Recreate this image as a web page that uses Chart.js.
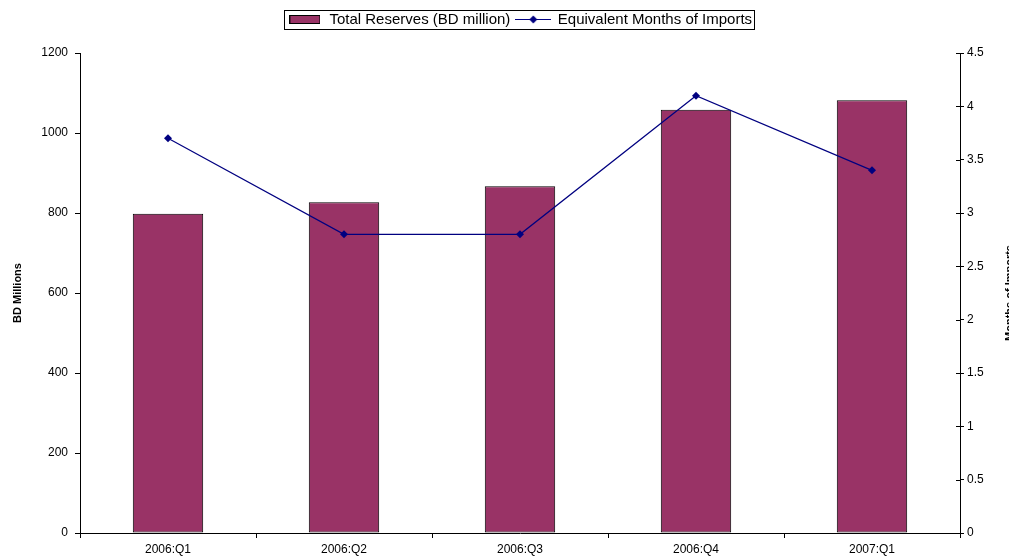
<!DOCTYPE html>
<html>
<head>
<meta charset="utf-8">
<script src="https://cdn.jsdelivr.net/npm/chart.js@4/dist/chart.umd.min.js"></script>
<style>
  html, body { margin: 0; padding: 0; background: #fff; }
  #wrap { width: 1009px; height: 556px; }
</style>
</head>
<body>
<div id="wrap"><canvas id="myChart"></canvas></div>
<script>
var quarters = ['2006:Q1', '2006:Q2', '2006:Q3', '2006:Q4', '2007:Q1'];
var reserves = [798, 827, 867, 1058, 1082];
var monthsImports = [3.7, 2.8, 2.8, 4.1, 3.4];
var leftTicks = [0, 200, 400, 600, 800, 1000, 1200];
var rightTicks = [0, 0.5, 1, 1.5, 2, 2.5, 3, 3.5, 4, 4.5];

var plum = '#993366';
var navy = '#000080';
var font = 'Arial, "Liberation Sans", sans-serif';

// little legend symbols
function barSymbol() {
    var c = document.createElement('canvas');
    c.width = 31; c.height = 9;
    var g = c.getContext('2d');
    g.fillStyle = plum;
    g.fillRect(0.5, 0.5, 30, 8);
    g.strokeStyle = '#000';
    g.lineWidth = 1;
    g.strokeRect(0.5, 0.5, 30, 8);
    return c;
}
function lineSymbol() {
    var c = document.createElement('canvas');
    c.width = 36; c.height = 9;
    var g = c.getContext('2d');
    g.strokeStyle = navy;
    g.lineWidth = 1.2;
    g.beginPath(); g.moveTo(0, 4.5); g.lineTo(36, 4.5); g.stroke();
    g.fillStyle = navy;
    g.beginPath();
    g.moveTo(18, 0.5); g.lineTo(22, 4.5); g.lineTo(18, 8.5); g.lineTo(14, 4.5);
    g.closePath(); g.fill();
    return c;
}

var extras = {
    id: 'extras',
    beforeUpdate: function(chart) {
        // leave a gap under the legend, like the original
        var lg = chart.legend;
        if (lg && !lg._patched) {
            var fit = lg.fit;
            lg.fit = function() { fit.call(this); this.height += 16; };
            lg._patched = true;
        }
    },
    afterDraw: function(chart) {
        var ctx = chart.ctx;
        var lg = chart.legend;
        // legend frame
        if (lg && lg.legendHitBoxes && lg.legendHitBoxes.length) {
            var l = 9999, r = 0, t = 9999, b = 0;
            lg.legendHitBoxes.forEach(function(h) {
                l = Math.min(l, h.left); r = Math.max(r, h.left + h.width);
                t = Math.min(t, h.top); b = Math.max(b, h.top + h.height);
            });
            ctx.save();
            ctx.strokeStyle = '#000';
            ctx.lineWidth = 1;
            ctx.strokeRect(Math.round(l - 4) + 0.5, Math.round(t - 2) + 0.5, Math.round(r - l + 6), Math.round(b - t + 4));
            ctx.restore();
        }
        // inner half of the right axis ticks
        var y2 = chart.scales.y2;
        ctx.save();
        ctx.strokeStyle = '#000';
        ctx.lineWidth = 1;
        y2.ticks.forEach(function(tk) {
            var py = Math.round(y2.getPixelForValue(tk.value)) + 0.5;
            ctx.beginPath(); ctx.moveTo(y2.left - 4, py); ctx.lineTo(y2.left, py); ctx.stroke();
        });
        // axis titles
        var ca = chart.chartArea;
        var mid = (ca.top + ca.bottom) / 2;
        ctx.fillStyle = '#000';
        ctx.font = 'bold 11px ' + font;
        ctx.textAlign = 'center';
        ctx.textBaseline = 'middle';
        ctx.translate(18, mid);
        ctx.rotate(-Math.PI / 2);
        ctx.fillText('BD Millions', 0, 0);
        ctx.setTransform(1, 0, 0, 1, 0, 0);
        ctx.translate(1010, mid);
        ctx.rotate(-Math.PI / 2);
        ctx.fillText('Months of Imports', 0, 0);
        ctx.restore();
    }
};

var ctx = document.getElementById('myChart');

var graphique = new Chart(ctx.getContext('2d'), {
    data: {
        labels: quarters,
        datasets: [{
            type: 'line',
            label: 'Equivalent Months of Imports',
            data: monthsImports,
            yAxisID: 'y2',
            borderColor: navy,
            backgroundColor: navy,
            borderWidth: 1.2,
            pointStyle: 'rectRot',
            pointRadius: 4,
            pointBorderWidth: 0,
            tension: 0,
            order: 0
        }, {
            type: 'bar',
            label: 'Total Reserves (BD million)',
            data: reserves,
            yAxisID: 'y',
            backgroundColor: plum,
            borderColor: '#000',
            borderWidth: 1,
            borderSkipped: false,
            barPercentage: 0.4,
            categoryPercentage: 1,
            order: 1
        }]
    },
    options: {
        responsive: true,
        maintainAspectRatio: false,
        animation: false,
        layout: { padding: { top: 6, left: 0, right: 0, bottom: 0 } },
        plugins: {
            tooltip: { enabled: false },
            legend: {
                position: 'top',
                fullSize: false,
                labels: {
                    color: '#000',
                    font: { family: font, size: 15 },
                    usePointStyle: true,
                    pointStyleWidth: 34,
                    boxHeight: 9,
                    padding: 6,
                    generateLabels: function(chart) {
                        return [{
                            text: 'Total Reserves (BD million)',
                            pointStyle: barSymbol(),
                            datasetIndex: 1, hidden: false, lineWidth: 0,
                            fontColor: '#000'
                        }, {
                            text: 'Equivalent Months of Imports',
                            pointStyle: lineSymbol(),
                            datasetIndex: 0, hidden: false, lineWidth: 0,
                            fontColor: '#000'
                        }];
                    }
                }
            }
        },
        scales: {
            x: {
                type: 'category',
                offset: true,
                grid: { display: true, offset: true, drawOnChartArea: false, tickLength: 5, color: '#000' },
                border: { display: true, color: '#000' },
                ticks: { color: '#000', font: { family: font, size: 12 }, padding: 4, maxRotation: 0 },
                afterFit: function(s) { s.height = 23; }
            },
            y: {
                position: 'left',
                min: 0, max: 1200,
                afterBuildTicks: function(s) { s.ticks = leftTicks.map(function(v) { return { value: v }; }); },
                grid: { display: true, drawOnChartArea: false, tickLength: 5, color: '#000' },
                border: { display: true, color: '#000' },
                ticks: {
                    color: '#000', font: { family: font, size: 12 }, padding: 7,
                    callback: function(v) { return String(v); }
                },
                afterFit: function(s) { s.width = 80; }
            },
            y2: {
                position: 'right',
                min: 0, max: 4.5,
                afterBuildTicks: function(s) { s.ticks = rightTicks.map(function(v) { return { value: v }; }); },
                grid: { display: true, drawOnChartArea: false, tickLength: 4, color: '#000' },
                border: { display: true, color: '#000' },
                ticks: {
                    color: '#000', font: { family: font, size: 12 }, padding: 3,
                    callback: function(v) { return String(v); }
                },
                afterFit: function(s) { s.width = 49; }
            }
        }
    },
    plugins: [extras]
});
</script>
</body>
</html>
